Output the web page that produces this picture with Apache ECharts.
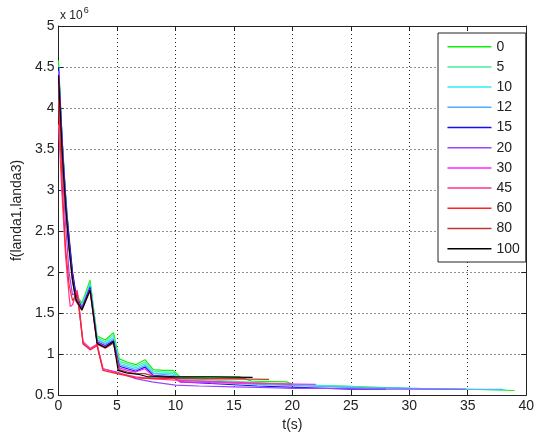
<!DOCTYPE html>
<html>
<head>
<meta charset="utf-8">
<script src="https://cdn.jsdelivr.net/npm/echarts@6/dist/echarts.min.js"></script>
<style>html,body{margin:0;padding:0;background:#fff;}#c{width:537px;height:441px;}</style>
</head>
<body>
<div id="c"></div>
<script>
// ---- data (values in units of 1e6) ----
const seriesNames = ['0','5','10','12','15','20','30','45','60','80','100'];
const seriesColors = ['#11ee11','#44ee99','#33eeee','#55aaff','#1111ee','#9944ff','#ff22ff','#ff3399','#ff2222','#bb3a3a','#000000'];

const t0 = [0,0.3,0.6,0.9,1.2,1.5,2.0,2.7,3.3,4.0,4.7,5.2,5.9,6.6,7.4,8.1,9.0,9.8,10.4,13,15.5,16.5,19.5,20.2,24,26,30,35,39];
const v0 = [4.58,3.65,2.95,2.40,1.98,1.72,1.62,1.90,1.22,1.17,1.26,0.94,0.90,0.87,0.93,0.81,0.80,0.80,0.72,0.72,0.72,0.67,0.66,0.62,0.61,0.60,0.58,0.57,0.555];

const t5 = [0,0.3,0.6,0.9,1.2,1.5,2.0,2.7,3.3,4.0,4.7,5.2,5.9,6.6,7.4,8.1,9.0,9.8,10.4,12,16,20,26];
const v5 = [4.52,3.62,2.92,2.37,1.96,1.70,1.60,1.87,1.20,1.15,1.23,0.91,0.88,0.85,0.90,0.79,0.78,0.78,0.70,0.69,0.66,0.63,0.60];

const t10 = [0,0.3,0.6,0.9,1.2,1.5,2.0,2.7,3.3,4.0,4.7,5.2,5.9,6.6,7.4,8.1,9.0,9.8,10.4,13,17,21,26,30,35,38.2];
const v10 = [4.5,3.62,2.93,2.38,1.96,1.70,1.58,1.85,1.18,1.13,1.20,0.89,0.86,0.83,0.88,0.77,0.76,0.76,0.69,0.67,0.64,0.62,0.59,0.58,0.57,0.565];

const t12 = [0,0.3,0.6,0.9,1.2,1.5,2.0,2.7,3.3,4.0,4.7,5.2,5.9,6.6,7.4,8.1,9.0,9.8,10.4,13,17,21,26,30,35,38];
const v12 = [4.48,3.64,2.95,2.40,1.97,1.70,1.57,1.83,1.17,1.12,1.18,0.87,0.84,0.81,0.86,0.76,0.75,0.74,0.68,0.66,0.63,0.61,0.59,0.58,0.57,0.57];

const t15 = [0,0.4,0.7,0.85,1.2,1.5,2.0,2.7,3.3,4.0,4.7,5.2,5.9,6.6,7.4,8.1,9.0,9.8,10.4,13,17,21,25,28];
const v15 = [4.5,3.37,2.72,2.51,2.0,1.72,1.56,1.81,1.15,1.10,1.16,0.85,0.82,0.79,0.84,0.74,0.73,0.72,0.66,0.64,0.61,0.59,0.57,0.57];

const t20 = [0,0.3,0.6,0.9,1.2,1.6,2.1,2.7,3.3,3.8,5.0,6.6,8.0,10,12,15,18,20,24,28,34.8];
const v20 = [4.3,3.3,2.6,2.0,1.72,1.76,1.13,1.06,1.11,0.82,0.78,0.70,0.66,0.62,0.61,0.60,0.59,0.58,0.58,0.57,0.57];

const t30 = [0,0.3,0.6,0.9,1.2,1.5,2.0,2.7,3.3,4.0,4.7,5.2,5.9,6.6,7.4,8.1,9.0,9.8,10.4,13,17,22];
const v30 = [4.45,3.55,2.85,2.32,1.92,1.68,1.55,1.79,1.14,1.09,1.14,0.83,0.80,0.78,0.82,0.73,0.72,0.71,0.66,0.65,0.64,0.63];

const t45 = [0,0.3,0.6,0.9,1.0,1.2,1.6,2.1,2.7,3.3,3.8,5.0,6.6,8.0,10,14,18,20];
const v45 = [3.8,2.95,2.2,1.72,1.58,1.60,1.78,1.15,1.07,1.12,0.82,0.77,0.72,0.70,0.68,0.66,0.64,0.63];

const t60 = [0,0.3,0.6,0.9,1.2,1.6,2.1,2.7,3.3,3.8,5.0,6.6,8.0,10,13,16];
const v60 = [4.1,3.1,2.3,1.85,1.65,1.75,1.12,1.05,1.10,0.80,0.76,0.71,0.70,0.70,0.70,0.70];

const t80 = [0,0.3,0.6,0.9,1.2,1.5,2.0,2.7,3.3,4.0,4.7,5.2,5.9,6.6,7.4,8.1,9.0,10,13,18];
const v80 = [4.35,3.45,2.78,2.28,1.88,1.64,1.53,1.77,1.12,1.07,1.13,0.81,0.78,0.76,0.76,0.73,0.72,0.71,0.70,0.69];

const t100 = [0,0.3,0.6,0.9,1.2,1.5,2.0,2.7,3.3,4.0,4.7,5.1,5.8,6.9,7.7,10,13,16.6];
const v100 = [4.4,3.5,2.82,2.3,1.9,1.66,1.54,1.78,1.13,1.08,1.15,0.80,0.77,0.75,0.72,0.72,0.72,0.716];

const xTicks = [0,5,10,15,20,25,30,35,40];
const yTicks = [0.5,1,1.5,2,2.5,3,3.5,4,4.5,5];

const times = [t0,t5,t10,t12,t15,t20,t30,t45,t60,t80,t100];
const vals = [v0,v5,v10,v12,v15,v20,v30,v45,v60,v80,v100];

// ---- chart ----
const font = 'Liberation Sans, Arial, sans-serif';
const axisCol = '#222';
const chart = echarts.init(document.getElementById('c'), null, {renderer: 'canvas'});
const series = seriesNames.map((n, i) => ({
  name: n,
  type: 'line',
  symbol: 'none',
  animation: false,
  lineStyle: {width: 1.2, color: seriesColors[i]},
  itemStyle: {color: seriesColors[i]},
  data: times[i].map((t, k) => [t, vals[i][k]])
}));

const commonX = {
  type: 'value', min: xTicks[0], max: xTicks[xTicks.length-1], interval: 5,
  axisLine: {show: true, onZero: false, lineStyle: {color: axisCol, width: 1}},
  axisTick: {show: true, inside: true, length: 5, lineStyle: {color: axisCol}},
};
const commonY = {
  type: 'value', min: yTicks[0], max: yTicks[yTicks.length-1], interval: 0.5,
  axisLine: {show: true, onZero: false, lineStyle: {color: axisCol, width: 1}},
  axisTick: {show: true, inside: true, length: 5, lineStyle: {color: axisCol}},
};

chart.setOption({
  backgroundColor: '#fff',
  animation: false,
  grid: {left: 58.5, right: 8, top: 26, bottom: 46, containLabel: false},
  xAxis: [
    Object.assign({}, commonX, {
      position: 'bottom',
      name: 't(s)', nameLocation: 'middle', nameGap: 23,
      nameTextStyle: {color: axisCol, fontFamily: font, fontSize: 14},
      axisLabel: {color: axisCol, fontFamily: font, fontSize: 14, margin: 4},
      splitLine: {show: true, lineStyle: {color: '#222', type: [1, 3], width: 1}}
    }),
    Object.assign({}, commonX, {
      position: 'top', axisLabel: {show: false}, splitLine: {show: false}
    })
  ],
  yAxis: [
    Object.assign({}, commonY, {
      position: 'left',
      name: 'f(landa1,landa3)', nameLocation: 'middle', nameGap: 30,
      nameTextStyle: {color: axisCol, fontFamily: font, fontSize: 14},
      axisLabel: {color: axisCol, fontFamily: font, fontSize: 14, margin: 4,
        formatter: v => String(v)},
      splitLine: {show: true, lineStyle: {color: '#222', type: [1, 3], width: 1}}
    }),
    Object.assign({}, commonY, {
      position: 'right', axisLabel: {show: false}, splitLine: {show: false}
    })
  ],
  legend: {
    orient: 'vertical', left: 438, top: 33,
    backgroundColor: '#fff', borderColor: '#222', borderWidth: 1, borderRadius: 0,
    padding: [6.7, 6, 6.3, 8.7],
    itemWidth: 44, itemHeight: 14, itemGap: 6.2,
    itemStyle: {opacity: 0},
    lineStyle: {width: 1.5},
    textStyle: {color: axisCol, fontFamily: font, fontSize: 14, lineHeight: 14},
    data: seriesNames
  },
  graphic: [{
    type: 'text', left: 60, top: 6,
    style: {
      text: '{a|x 10}{b|6}',
      rich: {
        a: {fontFamily: font, fontSize: 12, fill: axisCol, verticalAlign: 'bottom', lineHeight: 16},
        b: {fontFamily: font, fontSize: 9, fill: axisCol, verticalAlign: 'top', lineHeight: 16, padding: [0,0,8,1]}
      }
    }
  }],
  series: series
});
</script>
</body>
</html>
